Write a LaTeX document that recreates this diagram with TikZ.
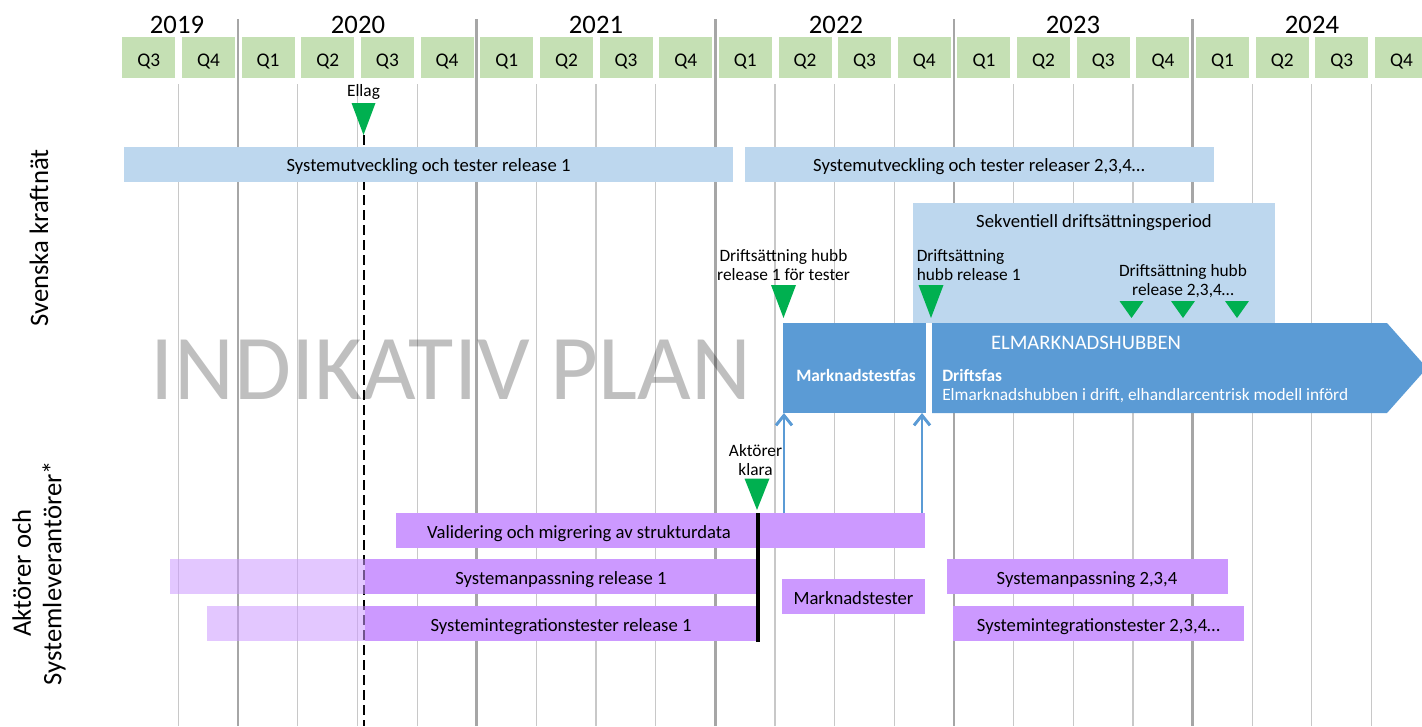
\documentclass[tikz,border=0pt]{standalone}
\usepackage{fontspec}
\setmainfont{Carlito}
\usetikzlibrary{arrows.meta}

\definecolor{qgreen}{HTML}{C5E0B4}
\definecolor{barblue}{HTML}{BDD7EE}
\definecolor{hubblue}{HTML}{5B9BD5}
\definecolor{msgreen}{HTML}{00B050}
\definecolor{lilac}{HTML}{CC99FF}
\definecolor{gridgray}{HTML}{C8C8C8}
\definecolor{yeargray}{HTML}{A6A6A6}

\begin{document}
\begin{tikzpicture}[x=0.75pt,y=0.75pt,yscale=-1,xscale=1,
  qlbl/.style={anchor=base,inner sep=0pt,font=\fontsize{14.5}{16}\selectfont},
  yrlbl/.style={anchor=base,inner sep=0pt,font=\fontsize{20}{24}\selectfont},
  thingrid/.style={draw=gridgray,line width=0.9pt},
  yeargrid/.style={draw=yeargray,line width=2pt},
  barlbl/.style={anchor=base,inner sep=0pt,font=\fontsize{14}{16}\selectfont},
  mslbl/.style={anchor=base,inner sep=0pt,font=\fontsize{13}{14}\selectfont},
  hublbl/.style={anchor=base west,inner sep=0pt,text=white,font=\fontsize{13}{15}\selectfont},
  milestone/.style={fill=msgreen},
  pale/.style={fill=lilac,fill opacity=0.55},
  sidelbl/.style={rotate=90,inner sep=0pt,font=\fontsize{20}{23}\selectfont,align=center},
  feed/.style={draw=hubblue,line width=2.2pt,-{Straight Barb[length=7.5pt,width=12pt]}}
]
\useasboundingbox (0,0) rectangle (1422,726);
\clip (0,0) rectangle (1422,726);

%Shape: Rectangle (quarters)
\fill[qgreen] (122.3,37) rectangle ++(53,41);  \node[qlbl] (q0) at (148.8,66) {Q3};
\fill[qgreen] (182,37) rectangle ++(53,41);    \node[qlbl] (q1) at (208.5,66) {Q4};
\fill[qgreen] (241.6,37) rectangle ++(53,41);  \node[qlbl] (q2) at (268.1,66) {Q1};
\fill[qgreen] (301.3,37) rectangle ++(53,41);  \node[qlbl] (q3) at (327.8,66) {Q2};
\fill[qgreen] (360.9,37) rectangle ++(53,41);  \node[qlbl] (q4) at (387.4,66) {Q3};
\fill[qgreen] (420.6,37) rectangle ++(53,41);  \node[qlbl] (q5) at (447.1,66) {Q4};
\fill[qgreen] (480.2,37) rectangle ++(53,41);  \node[qlbl] (q6) at (506.7,66) {Q1};
\fill[qgreen] (539.9,37) rectangle ++(53,41);  \node[qlbl] (q7) at (566.4,66) {Q2};
\fill[qgreen] (599.5,37) rectangle ++(53,41);  \node[qlbl] (q8) at (626,66) {Q3};
\fill[qgreen] (659.2,37) rectangle ++(53,41);  \node[qlbl] (q9) at (685.7,66) {Q4};
\fill[qgreen] (718.8,37) rectangle ++(53,41);  \node[qlbl] (q10) at (745.3,66) {Q1};
\fill[qgreen] (778.5,37) rectangle ++(53,41);  \node[qlbl] (q11) at (805,66) {Q2};
\fill[qgreen] (838.1,37) rectangle ++(53,41);  \node[qlbl] (q12) at (864.6,66) {Q3};
\fill[qgreen] (897.8,37) rectangle ++(53,41);  \node[qlbl] (q13) at (924.3,66) {Q4};
\fill[qgreen] (957.4,37) rectangle ++(53,41);  \node[qlbl] (q14) at (983.9,66) {Q1};
\fill[qgreen] (1017.1,37) rectangle ++(53,41); \node[qlbl] (q15) at (1043.6,66) {Q2};
\fill[qgreen] (1076.7,37) rectangle ++(53,41); \node[qlbl] (q16) at (1103.2,66) {Q3};
\fill[qgreen] (1136.4,37) rectangle ++(53,41); \node[qlbl] (q17) at (1162.9,66) {Q4};
\fill[qgreen] (1196,37) rectangle ++(53,41);   \node[qlbl] (q18) at (1222.5,66) {Q1};
\fill[qgreen] (1255.7,37) rectangle ++(53,41); \node[qlbl] (q19) at (1282.2,66) {Q2};
\fill[qgreen] (1315.3,37) rectangle ++(53,41); \node[qlbl] (q20) at (1341.8,66) {Q3};
\fill[qgreen] (1375,37) rectangle ++(53,41);   \node[qlbl] (q21) at (1401.5,66) {Q4};

% Text Node (years)
\node[yrlbl] (y2019) at (177,33) {2019};
\node[yrlbl] (y2020) at (358,33) {2020};
\node[yrlbl] (y2021) at (596,33) {2021};
\node[yrlbl] (y2022) at (836,33) {2022};
\node[yrlbl] (y2023) at (1073,33) {2023};
\node[yrlbl] (y2024) at (1312,33) {2024};

%Straight Lines (grid)
\draw[thingrid] (178.5,84) -- (178.5,726);
\draw[yeargrid] (238.1,19) -- (238.1,726);
\draw[thingrid] (297.8,84) -- (297.8,726);
\draw[thingrid] (357.4,84) -- (357.4,726);
\draw[thingrid] (417.1,84) -- (417.1,726);
\draw[yeargrid] (476.7,19) -- (476.7,726);
\draw[thingrid] (536.4,84) -- (536.4,726);
\draw[thingrid] (596,84) -- (596,726);
\draw[thingrid] (655.7,84) -- (655.7,726);
\draw[yeargrid] (715.3,19) -- (715.3,726);
\draw[thingrid] (775,84) -- (775,726);
\draw[thingrid] (834.6,84) -- (834.6,726);
\draw[thingrid] (894.3,84) -- (894.3,726);
\draw[yeargrid] (953.9,19) -- (953.9,726);
\draw[thingrid] (1013.6,84) -- (1013.6,726);
\draw[thingrid] (1073.2,84) -- (1073.2,726);
\draw[thingrid] (1132.9,84) -- (1132.9,726);
\draw[yeargrid] (1192.5,19) -- (1192.5,726);
\draw[thingrid] (1252.2,84) -- (1252.2,726);
\draw[thingrid] (1311.8,84) -- (1311.8,726);
\draw[thingrid] (1371.5,84) -- (1371.5,726);

%Straight Lines (Ellag)
\coordinate (ellagTip) at (363.5,135);
\coordinate (ellagEnd) at (363.5,726);
\draw[line width=1.5pt,dash pattern=on 7.5pt off 3.75pt] (ellagTip) -- (ellagEnd);

%Shape: Rectangle (Svenska kraftnät)
\fill[barblue] (124,147) rectangle (733,181.5);
\fill[barblue] (744.5,147) rectangle (1213.5,181.5);
\fill[barblue] (913,203) rectangle (1275,323);
\node[barlbl] (sut1) at (428.5,171) {Systemutveckling och tester release 1};
\node[barlbl] (sut2) at (979,171) {Systemutveckling och tester releaser 2,3,4…};
\node[barlbl] (sekv) at (1094,227) {Sekventiell driftsättningsperiod};

%Shape: Arrow (hubben)
\fill[hubblue] (783,323) rectangle (926,413);
\fill[hubblue] (932,323) -- (1387,323) -- (1427,368) -- (1387,413) -- (932,413) -- cycle;
\node[anchor=base,inner sep=0pt,text=white,font=\fontsize{15.5}{17}\selectfont] (hubb) at (1086,349) {ELMARKNADSHUBBEN};
\node[anchor=base,inner sep=0pt,text=white,font=\fontsize{13}{15}\selectfont\bfseries] (mtfas) at (856,381) {Marknadstestfas};
\node[hublbl,font=\fontsize{13}{15}\selectfont\bfseries] (drfas) at (942,381) {Driftsfas};
\node[hublbl] (drdesc) at (942,400.5) {Elmarknadshubben i drift, elhandlarcentrisk modell införd};

%Shape: Triangle (milestones)
\fill[milestone] (ellagTip) -- ++(-12,-32) -- ++(24,0) -- cycle;
\coordinate (hubTest) at (783.5,318);
\fill[milestone] (hubTest) -- ++(-12.5,-33) -- ++(25,0) -- cycle;
\coordinate (hubOne) at (931,318);
\fill[milestone] (hubOne) -- ++(-12.5,-33) -- ++(25,0) -- cycle;
\coordinate (hubTwo) at (1131.5,318);
\fill[milestone] (hubTwo) -- ++(-12,-17) -- ++(24,0) -- cycle;
\coordinate (hubThree) at (1183,318);
\fill[milestone] (hubThree) -- ++(-12,-17) -- ++(24,0) -- cycle;
\coordinate (hubFour) at (1237,318);
\fill[milestone] (hubFour) -- ++(-12,-17) -- ++(24,0) -- cycle;
\coordinate (klaraTip) at (757,510);
\fill[milestone] (klaraTip) -- ++(-12.5,-31.5) -- ++(25,0) -- cycle;

% Text Node (milestones)
\node[mslbl] (ellag) at (363.5,96) {Ellag};
\node[mslbl,align=center] (lblTest) at (783.5,280) {Driftsättning hubb\\release 1 för tester};
\node[mslbl,anchor=base west,align=left] (lblOne) at (916.5,280) {Driftsättning\\hubb release 1};
\node[mslbl,align=center] (lblRest) at (1183,295) {Driftsättning hubb\\release 2,3,4…};
\node[mslbl,align=center] (lblKlara) at (755.5,475) {Aktörer\\klara};

%Shape: Rectangle (aktörer)
\fill[lilac] (396,513) rectangle (925,548);
\fill[pale] (170,559) rectangle (365,593.5);
\fill[lilac] (365,559) rectangle (757,593.5);
\fill[pale] (207,606) rectangle (365,641);
\fill[lilac] (365,606) rectangle (757,641);
\fill[lilac] (782,579) rectangle (925,614);
\fill[lilac] (947,559) rectangle (1227.5,593.5);
\fill[lilac] (953,606) rectangle (1244,641);
\node[barlbl] (valid) at (579,538) {Validering och migrering av strukturdata};
\node[barlbl] (anp1) at (561,584) {Systemanpassning release 1};
\node[barlbl] (int1) at (561,631) {Systemintegrationstester release 1};
\node[barlbl] (mtest) at (853.5,604) {Marknadstester};
\node[barlbl] (anp2) at (1087,584) {Systemanpassning 2,3,4};
\node[barlbl] (int2) at (1098.5,631) {Systemintegrationstester 2,3,4…};

%Straight Lines (klara, feeds)
\coordinate (klaraTop) at (757.5,513);
\coordinate (klaraBot) at (757.5,642);
\draw[line width=3pt] (klaraTop) -- (klaraBot);
\coordinate (feedA) at (784,513);
\coordinate (feedAend) at (784,413);
\draw[feed] (feedA) -- (feedAend);
\coordinate (feedB) at (922,513);
\coordinate (feedBend) at (922,413);
\draw[feed] (feedB) -- (feedBend);

% Text Node (watermark, sides)
\node[anchor=base,inner sep=0pt,text=black,text opacity=0.25,font=\fontsize{69.5}{72}\selectfont] (plan) at (451,399) {INDIKATIV PLAN};
\node[sidelbl,anchor=base] (svk) at (48,238) {Svenska kraftnät};
\node[sidelbl] (aktor) at (39,573) {Aktörer och\\Systemleverantörer*};

\end{tikzpicture}
\end{document}
